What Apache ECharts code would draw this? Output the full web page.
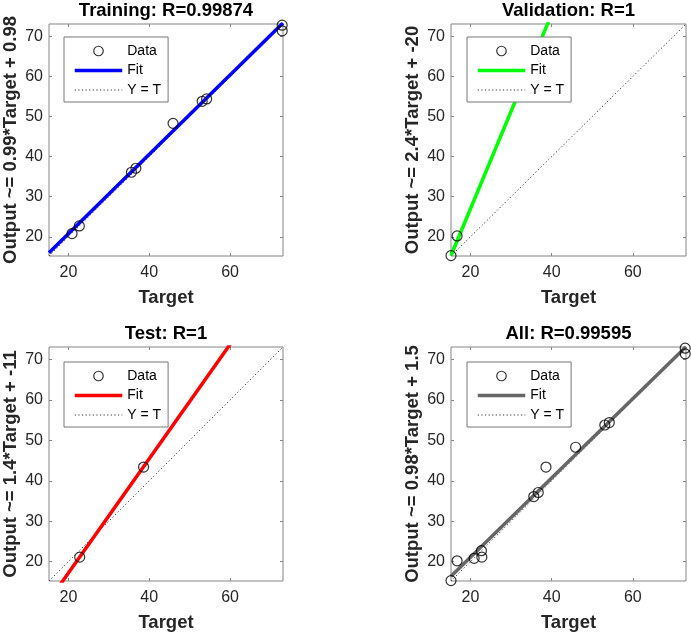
<!DOCTYPE html>
<html>
<head>
<meta charset="utf-8">
<title>regression</title>
<script src="https://cdn.jsdelivr.net/npm/echarts@6/dist/echarts.min.js"></script>
<style>
html,body{margin:0;padding:0;background:#fff;}
#main{width:691px;height:635px;}
</style>
</head>
<body>
<div id="main"></div>
<script>
// axis range, same for all 4 plots
var axisMin = 15.2;
var axisMax = 73.1;
var xTicks = [20, 40, 60];
var yTicks = [20, 30, 40, 50, 60, 70];

// training set
var trainTarget = [20.9, 22.7, 35.6, 36.7, 45.9, 53.1, 54.2, 72.9, 72.9];
var trainOutput = [20.8, 22.7, 36.1, 37.1, 48.3, 53.8, 54.4, 72.8, 71.4];
// validation set
var valTarget = [15.2, 16.7];
var valOutput = [15.3, 20.2];
// test set
var testTarget = [22.8, 38.6];
var testOutput = [21.1, 43.4];
// all
var allTarget = trainTarget.concat(valTarget, testTarget);
var allOutput = trainOutput.concat(valOutput, testOutput);

var titles = ['Training: R=0.99874', 'Validation: R=1', 'Test: R=1', 'All: R=0.99595'];
var yNames = ['Output ~= 0.99*Target + 0.98', 'Output ~= 2.4*Target + -20', 'Output ~= 1.4*Target + -11', 'Output ~= 0.98*Target + 1.5'];
var fitSlope = [0.99, 2.43, 1.414, 0.98];
var fitOffset = [0.98, -21.6, -11.1, 1.5];
var fitColor = ['#0000ff', '#00ff00', '#ff0000', '#666666'];

var targets = [trainTarget, valTarget, testTarget, allTarget];
var outputs = [trainOutput, valOutput, testOutput, allOutput];

// plot boxes
var boxLeft = [48, 451, 48, 451];
var boxTop = [22, 22, 347, 347];
var boxW = 235;
var boxH = 234;

var font = '"Liberation Sans", Arial, sans-serif';
var boxColor = '#858585';
var textColor = '#262626';
var noFill = 'rgba(0,0,0,0)';
var dotted = [1.2, 2.4];

var grids = [], xAxes = [], yAxes = [], series = [], legends = [];

function pairs(xs, ys){
	var out = [];
	for(var i = 0; i < xs.length; i++){
		out.push([xs[i], ys[i]]);
	}
	return out;
}

for(var i = 0; i < 4; i++){
	grids.push({
		left: boxLeft[i], top: boxTop[i], width: boxW, height: boxH,
		show: true, borderColor: boxColor, borderWidth: 1, backgroundColor: '#fff'
	});
	// bottom x axis
	xAxes.push({
		gridIndex: i, type: 'value', position: 'bottom', min: axisMin, max: axisMax,
		name: 'Target', nameLocation: 'middle', nameGap: 32,
		nameTextStyle: {fontFamily: font, fontWeight: 'bold', fontSize: 18.5, color: textColor},
		axisLine: {show: false},
		axisTick: {show: true, inside: true, length: 3, customValues: xTicks, lineStyle: {color: boxColor}},
		axisLabel: {customValues: xTicks, margin: 9, fontFamily: font, fontSize: 16, color: textColor},
		splitLine: {show: false}
	});
	// top x axis, carries the title
	xAxes.push({
		gridIndex: i, type: 'value', position: 'top', min: axisMin, max: axisMax,
		name: titles[i], nameLocation: 'middle', nameGap: 4,
		nameTextStyle: {fontFamily: font, fontWeight: 'bold', fontSize: 18.5, color: '#000'},
		axisLine: {show: false},
		axisTick: {show: true, inside: true, length: 3, customValues: xTicks, lineStyle: {color: boxColor}},
		axisLabel: {show: false},
		splitLine: {show: false}
	});
	yAxes.push({
		gridIndex: i, type: 'value', position: 'left', min: axisMin, max: axisMax,
		name: yNames[i], nameLocation: 'middle', nameGap: 29,
		nameTextStyle: {fontFamily: font, fontWeight: 'bold', fontSize: 18.5, color: textColor},
		axisLine: {show: false},
		axisTick: {show: true, inside: true, length: 3, customValues: yTicks, lineStyle: {color: boxColor}},
		axisLabel: {customValues: yTicks, margin: 6, fontFamily: font, fontSize: 16, color: textColor},
		splitLine: {show: false}
	});
	yAxes.push({
		gridIndex: i, type: 'value', position: 'right', min: axisMin, max: axisMax,
		axisLine: {show: false},
		axisTick: {show: true, inside: true, length: 3, customValues: yTicks, lineStyle: {color: boxColor}},
		axisLabel: {show: false},
		splitLine: {show: false}
	});

	// Y = T
	series.push({
		name: 'Y = T', type: 'line', xAxisIndex: i * 2, yAxisIndex: i * 2,
		data: [[axisMin, axisMin], [axisMax, axisMax]],
		symbol: 'none', z: 1,
		itemStyle: {color: '#333'},
		lineStyle: {color: '#333', width: 1, type: dotted}
	});
	// fit line
	series.push({
		name: 'Fit', type: 'line', xAxisIndex: i * 2, yAxisIndex: i * 2,
		data: [[axisMin, fitSlope[i] * axisMin + fitOffset[i]], [axisMax, fitSlope[i] * axisMax + fitOffset[i]]],
		symbol: 'none', clip: true, z: 2,
		itemStyle: {color: fitColor[i]},
		lineStyle: {color: fitColor[i], width: 3.5}
	});
	// data circles
	series.push({
		name: 'Data', type: 'scatter', xAxisIndex: i * 2, yAxisIndex: i * 2,
		data: pairs(targets[i], outputs[i]),
		symbol: 'circle', symbolSize: 10, clip: false, z: 3,
		itemStyle: {color: noFill, borderColor: '#000', borderWidth: 1.2}
	});

	legends.push({
		left: boxLeft[i] + 16, top: boxTop[i] + 15,
		orient: 'vertical', align: 'left',
		padding: [7, 7, 5, 9], itemGap: 5.5,
		itemWidth: 47.5, itemHeight: 9.5,
		backgroundColor: '#fff', borderColor: '#777', borderWidth: 1,
		textStyle: {fontFamily: font, fontSize: 14, color: '#000', lineHeight: 14},
		selectedMode: false,
		data: [
			{name: 'Data', itemStyle: {color: noFill, borderColor: '#000', borderWidth: 1.2}},
			{name: 'Fit', itemStyle: {color: noFill, borderColor: noFill, borderWidth: 0},
				lineStyle: {color: fitColor[i], width: 3.5, type: 'solid'}},
			{name: 'Y = T', itemStyle: {color: noFill, borderColor: noFill, borderWidth: 0},
				lineStyle: {color: '#333', width: 1, type: dotted}}
		]
	});
}

var myChart = echarts.init(document.getElementById('main'));
myChart.setOption({
	animation: false,
	backgroundColor: '#fff',
	grid: grids,
	xAxis: xAxes,
	yAxis: yAxes,
	legend: legends,
	series: series
});
</script>
</body>
</html>
